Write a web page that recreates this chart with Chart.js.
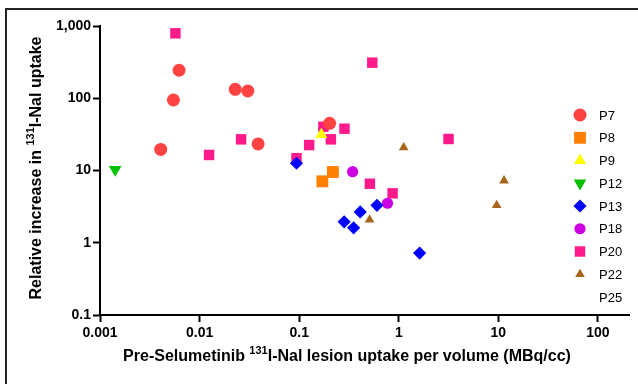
<!DOCTYPE html>
<html><head><meta charset="utf-8">
<script src="https://cdn.jsdelivr.net/npm/chart.js@4/dist/chart.umd.min.js"></script>
<style>html,body{margin:0;padding:0;background:#fff}#wrap{width:638px;height:384px;position:relative}</style>
</head><body><div id="wrap"><canvas id="c"></canvas></div>
<script>
// ---- data ----
const seriesNames = ['P7','P8','P9','P12','P13','P18','P20','P22','P25'];
const p7X  = [0.00407, 0.00546, 0.00622, 0.0228, 0.0305, 0.0387, 0.202];
const p7Y  = [19.6, 94.6, 244, 133, 126, 23.3, 45.0];
const p8X  = [0.171, 0.218];
const p8Y  = [7.08, 9.53];
const p9X  = [0.167];
const p9Y  = [31.4];
const p12X = [0.00142];
const p12Y = [10.3];
const p13X = [0.094, 0.283, 0.352, 0.410, 0.604, 1.62];
const p13Y = [12.6, 1.95, 1.61, 2.67, 3.30, 0.72];
const p18X = [0.344, 0.771];
const p18Y = [9.62, 3.52];
const p20X = [0.00572, 0.01245, 0.0261, 0.094, 0.126, 0.175, 0.208, 0.285, 0.542, 0.513, 0.867, 3.16];
const p20Y = [792, 16.4, 27.0, 14.8, 22.5, 40.3, 27.0, 37.9, 311, 6.56, 4.83, 27.3];
const p22X = [1.12, 0.509, 9.62, 11.4];
const p22Y = [20.8, 2.08, 3.30, 7.23];
const p25X = [];
const p25Y = [];
const xTickVals = [0.001, 0.01, 0.1, 1, 10, 100];
const xTickLabels = ['0.001', '0.01', '0.1', '1', '10', '100'];
const yTickVals = [0.1, 1, 10, 100, 1000];
const yTickLabels = ['0.1', '1', '10', '100', '1,000'];
const xTitleParts = ['Pre-Selumetinib ', '131', 'I-Nal lesion uptake per volume (MBq/cc)'];
const yTitleParts = ['Relative increase in ', '131', 'I-Nal uptake'];

// ---- styles ----
const FONT = '"Liberation Sans", Arial, sans-serif';
function pts(xs, ys){ return xs.map((x,i)=>({x:x, y:ys[i]})); }
function ds(label, xs, ys, color, style, radius, rotation){
  return {label, data: pts(xs, ys), backgroundColor: color, borderColor: color,
    pointStyle: style, pointRadius: radius, pointHoverRadius: radius, pointBorderWidth: 0,
    rotation: rotation || 0, pointRotation: rotation || 0, showLine: false};
}
const datasets = [
  ds(seriesNames[0], p7X, p7Y, '#FF4242', 'circle', 6.5),
  ds(seriesNames[1], p8X, p8Y, '#FF8000', 'rect', 8.4),
  ds(seriesNames[2], p9X, p9Y, '#FFFF00', 'triangle', 7),
  ds(seriesNames[3], p12X, p12Y, '#00C000', 'triangle', 7.3, 180),
  ds(seriesNames[4], p13X, p13Y, '#0000FF', 'rectRot', 6.6),
  ds(seriesNames[5], p18X, p18Y, '#CC00E0', 'circle', 5.6),
  ds(seriesNames[6], p20X, p20Y, '#FF1A8C', 'rect', 7.4),
  ds(seriesNames[7], p22X, p22Y, '#A8661C', 'triangle', 5.6),
  ds(seriesNames[8], p25X, p25Y, '#FFFFFF', false, 0)
];

function drawMarker(ctx, style, r, rot, x, y){
  const rad = (rot||0) * Math.PI/180;
  ctx.beginPath();
  if (style === 'circle') { ctx.arc(x, y, r, 0, Math.PI*2); }
  else if (style === 'rect') { const s = r*Math.SQRT1_2; ctx.rect(x-s, y-s, 2*s, 2*s); }
  else if (style === 'rectRot') { ctx.moveTo(x, y-r); ctx.lineTo(x+r, y); ctx.lineTo(x, y+r); ctx.lineTo(x-r, y); ctx.closePath(); }
  else if (style === 'triangle') {
    let a = rad;
    ctx.moveTo(x + Math.sin(a)*r, y - Math.cos(a)*r);
    a += 2*Math.PI/3; ctx.lineTo(x + Math.sin(a)*r, y - Math.cos(a)*r);
    a += 2*Math.PI/3; ctx.lineTo(x + Math.sin(a)*r, y - Math.cos(a)*r);
    ctx.closePath();
  } else return;
  ctx.fill();
}

const framePlugin = {
  id: 'frame',
  beforeDraw(chart){
    const ctx = chart.ctx; ctx.save();
    ctx.fillStyle = '#fff'; ctx.fillRect(0,0,chart.width,chart.height);
    ctx.strokeStyle = '#222'; ctx.lineWidth = 2;
    ctx.beginPath(); ctx.moveTo(6, chart.height+2); ctx.lineTo(6, 9); ctx.lineTo(chart.width+2, 9); ctx.stroke();
    ctx.restore();
  }
};

function drawSupText(ctx, parts, cx, cy){
  const big = 'bold 16px ' + FONT, small = 'bold 11px ' + FONT;
  ctx.font = big; const w0 = ctx.measureText(parts[0]).width, w2 = ctx.measureText(parts[2]).width;
  ctx.font = small; const w1 = ctx.measureText(parts[1]).width;
  let x = cx - (w0+w1+w2)/2;
  ctx.textBaseline = 'alphabetic'; ctx.textAlign = 'left'; ctx.fillStyle = '#000';
  ctx.font = big; ctx.fillText(parts[0], x, cy+6); x += w0;
  ctx.font = small; ctx.fillText(parts[1], x, cy-1); x += w1;
  ctx.font = big; ctx.fillText(parts[2], x, cy+6);
}

const extrasPlugin = {
  id: 'extras',
  afterDraw(chart){
    const ctx = chart.ctx; ctx.save();
    // axis titles
    drawSupText(ctx, xTitleParts, 347, 355);
    ctx.save(); ctx.translate(35, 168); ctx.rotate(-Math.PI/2);
    drawSupText(ctx, yTitleParts, 0, 0); ctx.restore();
    // legend
    const mx = 580, tx = 599, top = 115, step = 22.75;
    ctx.font = '13px ' + FONT; ctx.textBaseline = 'middle'; ctx.textAlign = 'left';
    chart.data.datasets.forEach((d, i) => {
      const y = top + i*step;
      if (d.pointStyle) { ctx.fillStyle = d.backgroundColor; drawMarker(ctx, d.pointStyle, d.pointRadius, d.rotation, mx, y); }
      ctx.fillStyle = '#000'; ctx.fillText(d.label, tx, y + 1);
    });
    ctx.restore();
  }
};

function labelFor(vals, labels, v){
  const i = vals.findIndex(t => Math.abs(Math.log10(t) - Math.log10(v)) < 1e-6);
  return i >= 0 ? labels[i] : '';
}

new Chart(document.getElementById('c'), {
  type: 'scatter',
  data: { datasets },
  plugins: [framePlugin, extrasPlugin],
  options: {
    responsive: true, maintainAspectRatio: false, animation: false,
    layout: { padding: { left: 0, right: 9, top: 26, bottom: 0 } },
    plugins: { legend: { display: false }, tooltip: { enabled: false } },
    scales: {
      x: {
        type: 'logarithmic', min: 0.001, max: 205,
        afterBuildTicks: s => { s.ticks = xTickVals.map(v => ({value: v})); },
        afterFit: s => { s.height = 69; },
        border: { display: true, color: '#000', width: 2 },
        grid: { display: true, drawOnChartArea: false, drawTicks: true, tickLength: 7, tickColor: '#000', tickWidth: 2, color: '#000' },
        ticks: { autoSkip: false, maxRotation: 0, padding: 3, color: '#000', font: { family: FONT, size: 14, weight: 'bold' },
          callback: v => labelFor(xTickVals, xTickLabels, v) },
        title: { display: false }
      },
      y: {
        type: 'logarithmic', min: 0.1, max: 1000,
        afterBuildTicks: s => { s.ticks = yTickVals.map(v => ({value: v})); },
        afterFit: s => { s.width = 100; },
        border: { display: true, color: '#000', width: 2 },
        grid: { display: true, drawOnChartArea: false, drawTicks: true, tickLength: 7, tickColor: '#000', tickWidth: 2, color: '#000' },
        ticks: { autoSkip: false, padding: 2, color: '#000', font: { family: FONT, size: 14, weight: 'bold' },
          callback: v => labelFor(yTickVals, yTickLabels, v) },
        title: { display: false }
      }
    }
  }
});
</script></body></html>
